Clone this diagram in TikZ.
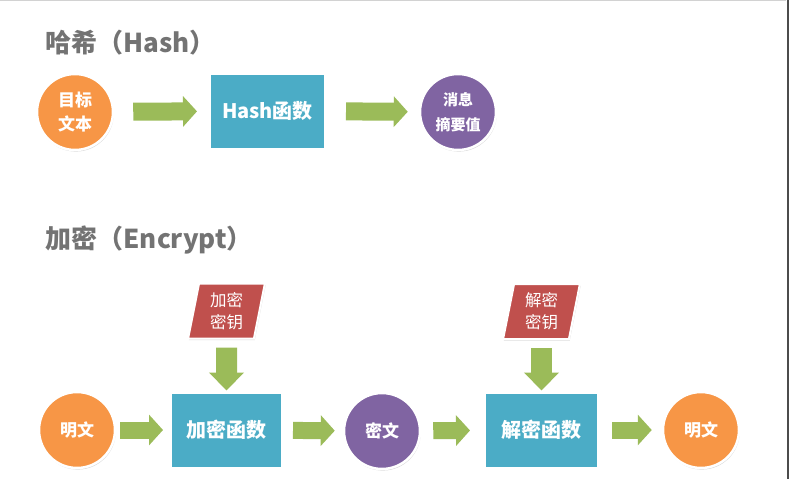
\documentclass[tikz,border=0pt]{standalone}
\usepackage{fontspec}
\usepackage{tikz}
\usetikzlibrary{arrows.meta, shapes.geometric, shadows}
\newfontfamily\cjk{Noto Sans CJK SC}
\definecolor{hzorange}{HTML}{F79646}
\definecolor{hzteal}{HTML}{4BACC6}
\definecolor{hzpurple}{HTML}{8064A2}
\definecolor{hzred}{HTML}{C0504D}
\definecolor{hzgreen}{HTML}{9BBB59}
\definecolor{hzgray}{HTML}{737373}
\tikzset{
    circ/.style={circle, draw=white, line width=2.5pt, minimum size=76pt, inner sep=0pt, text=white, align=center,
        font=\cjk\bfseries\fontsize{17}{24}\selectfont, drop shadow={opacity=0.3, shadow xshift=0.8pt, shadow yshift=-1.6pt}},
    fnbox/.style={rectangle, draw=white, line width=2pt, minimum width=113pt, minimum height=75pt, fill=hzteal, text=white,
        font=\cjk\bfseries\fontsize{20}{24}\selectfont, drop shadow={opacity=0.3, shadow xshift=0.8pt, shadow yshift=-1.6pt}},
    keybox/.style={trapezium, trapezium left angle=80, trapezium right angle=100, trapezium stretches=true,
        draw=white, line width=2pt, fill=hzred, minimum width=77pt, minimum height=55pt, inner sep=0pt, text=white, align=center,
        font=\cjk\fontsize{16.5}{22}\selectfont, drop shadow={opacity=0.3, shadow xshift=0.8pt, shadow yshift=-1.6pt}},
    fat/.style={draw=hzgreen, line width=17pt, -{Triangle[length=14pt, width=30pt]}},
    fatv/.style={draw=hzgreen, line width=21pt, -{Triangle[length=18pt, width=34pt]}},
    ttl/.style={anchor=west, text=hzgray, font=\cjk\bfseries\fontsize{26}{30}\selectfont}
}
\begin{document}
\begin{tikzpicture}[x=1pt, y=-1pt]
    \useasboundingbox (0,0) rectangle (791,479);
    % frame of the shot
    \draw[gray!35, line width=1pt] (0,0.5) -- (786,0.5);
    \draw[black!70, line width=2pt] (788,0) -- (788,479);

    % hash
    \node[ttl] (t1) at (42,43) {哈希（Hash）};
    \node[circ, fill=hzorange] (src) at (75,112) {目标\\文本};
    \node[fnbox, minimum width=115pt] (hfn) at (267.5,111) {Hash函数};
    \node[circ, fill=hzpurple, font=\cjk\bfseries\fontsize{15}{25}\selectfont] (dig) at (458,112) {消息\\摘要值};

    \draw[fat, line width=18pt, shorten <=19pt, shorten >=12pt] (src) -- (hfn);
    \draw[fat, line width=18pt, shorten <=20pt, shorten >=11pt] (hfn) -- (dig);

    % encrypt
    \node[ttl] (t2) at (42,240) {加密（Encrypt）};
    \node[circ, fill=hzorange] (pln) at (77,430) {明文};
    \node[fnbox, minimum width=111pt] (efn) at (226.5,430) {加密函数};
    \node[circ, fill=hzpurple] (cph) at (382,431) {密文};
    \node[fnbox] (dfn) at (541.5,430) {解密函数};
    \node[circ, fill=hzorange] (out) at (701,430) {明文};
    \node[keybox] (ekey) at (226.5,311) {加密\\密钥};
    \node[keybox] (dkey) at (541.5,311.5) {解密\\密钥};

    \draw[fat, shorten <=4pt, shorten >=7pt] (pln) -- (efn);
    \draw[fat, shorten <=10pt, shorten >=8pt] (efn) -- (cph);
    \draw[fat, shorten <=12pt, shorten >=14pt] (cph) -- (dfn);
    \draw[fat, shorten <=13pt, shorten >=10pt] (dfn) -- (out);
    \draw[fatv, shorten <=8pt, shorten >=1pt] (ekey) -- (efn);
    \draw[fatv, shorten <=8pt, shorten >=1pt] (dkey) -- (dfn);
\end{tikzpicture}
\end{document}
